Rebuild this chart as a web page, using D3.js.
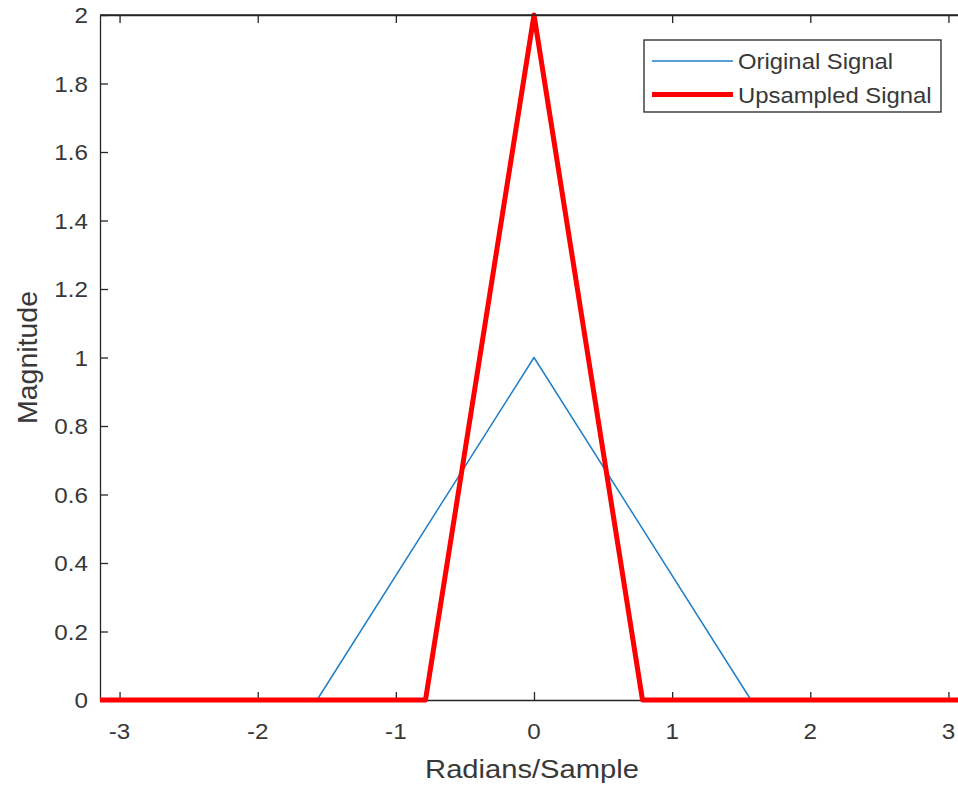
<!DOCTYPE html>
<html>
<head>
<meta charset="utf-8">
<script src="https://cdn.jsdelivr.net/npm/d3@7"></script>
<style>
  html, body { margin: 0; padding: 0; background: #fff; overflow: hidden; }
  svg { display: block; font-family: "Liberation Sans", Arial, Helvetica, sans-serif; }
</style>
</head>
<body>
<svg id="chart" width="958" height="787"></svg>
<script>
// ---- data ----
const originalX = [-3.1416, -1.5708, 0, 1.5708, 3.1416];
const originalY = [0, 0, 1, 0, 0];
const upsampledX = [-3.1416, -0.7854, 0, 0.7854, 3.1416];
const upsampledY = [0, 0, 2, 0, 0];
const xTicks = [-3, -2, -1, 0, 1, 2, 3];
const yTicks = [0, 0.2, 0.4, 0.6, 0.8, 1, 1.2, 1.4, 1.6, 1.8, 2];
const seriesNames = ["Original Signal", "Upsampled Signal"];
const seriesColors = ["#1f80c8", "#ff0000"];
const xLabel = "Radians/Sample";
const yLabel = "Magnitude";

(function () {
// ---- layout ----
const pLeft = 100, pRight = 968, pTop = 15, pBottom = 700;
const axisColor = "#262626";
const textColor = "#383838";
const sx = 1.1; // horizontal text stretch

const svg = d3.select("#chart");
const x = d3.scaleLinear().domain([-3.1416, 3.1416]).range([pLeft, pRight]);
const y = d3.scaleLinear().domain([0, 2]).range([pBottom, pTop]);

function stretchedText(g, tx, ty, str, anchor, size) {
  return g.append("text")
    .attr("transform", `translate(${tx},${ty}) scale(${sx},1)`)
    .attr("text-anchor", anchor)
    .attr("font-size", size)
    .attr("fill", textColor)
    .text(str);
}

const fmt = d => String(+d.toFixed(1));
const gB = svg.append("g").attr("transform", `translate(0,${pBottom})`)
  .call(d3.axisBottom(x).tickValues(xTicks).tickSizeInner(-8).tickSizeOuter(0).tickFormat(""));
const gT = svg.append("g").attr("transform", `translate(0,${pTop})`)
  .call(d3.axisTop(x).tickValues(xTicks).tickSizeInner(-8).tickSizeOuter(0).tickFormat(""));
const gL = svg.append("g").attr("transform", `translate(${pLeft},0)`)
  .call(d3.axisLeft(y).tickValues(yTicks).tickSizeInner(-8).tickSizeOuter(0).tickFormat(""));
[gB, gT, gL].forEach(g => {
  g.select(".domain").attr("stroke", axisColor).attr("stroke-width", 1.3);
  g.selectAll(".tick line").attr("stroke", axisColor).attr("stroke-width", 1.3);
});

const lab = svg.append("g");
xTicks.forEach(t => stretchedText(lab, x(t), 739, fmt(t), "middle", 22));
yTicks.forEach(t => stretchedText(lab, 88, y(t) + 8, fmt(t), "end", 22));

stretchedText(lab, 532, 778, xLabel, "middle", 26.5);
lab.append("text")
  .attr("transform", `translate(37,${(pTop + pBottom) / 2}) rotate(-90)`)
  .attr("text-anchor", "middle")
  .attr("font-size", 28.5)
  .attr("fill", textColor)
  .text(yLabel);

const line = d3.line().x(d => x(d[0])).y(d => y(d[1]));
const origData = originalX.map((v, i) => [v, originalY[i]]);
const upData = upsampledX.map((v, i) => [v, upsampledY[i]]);

svg.append("path").datum(origData)
  .attr("d", line).attr("fill", "none")
  .attr("stroke", seriesColors[0]).attr("stroke-width", 1.5)
  .attr("stroke-linejoin", "round");
svg.append("path").datum(upData)
  .attr("d", line).attr("fill", "none")
  .attr("stroke", seriesColors[1]).attr("stroke-width", 5)
  .attr("stroke-linejoin", "round");

svg.append("line").attr("x1", pLeft).attr("x2", pRight).attr("y1", pTop).attr("y2", pTop)
  .attr("stroke", axisColor).attr("stroke-width", 1.3);

const lg = svg.append("g");
lg.append("rect").attr("x", 644).attr("y", 40).attr("width", 297).attr("height", 72)
  .attr("fill", "#fff").attr("stroke", axisColor).attr("stroke-width", 1.3);
const legY = [61, 94.5];
const legW = [1.5, 5];
seriesNames.forEach((n, i) => {
  lg.append("line").attr("x1", 652).attr("x2", 733).attr("y1", legY[i]).attr("y2", legY[i])
    .attr("stroke", seriesColors[i]).attr("stroke-width", legW[i]);
  stretchedText(lg, 738, legY[i] + 8, n, "start", 21.7);
});
})();
</script>
</body>
</html>
